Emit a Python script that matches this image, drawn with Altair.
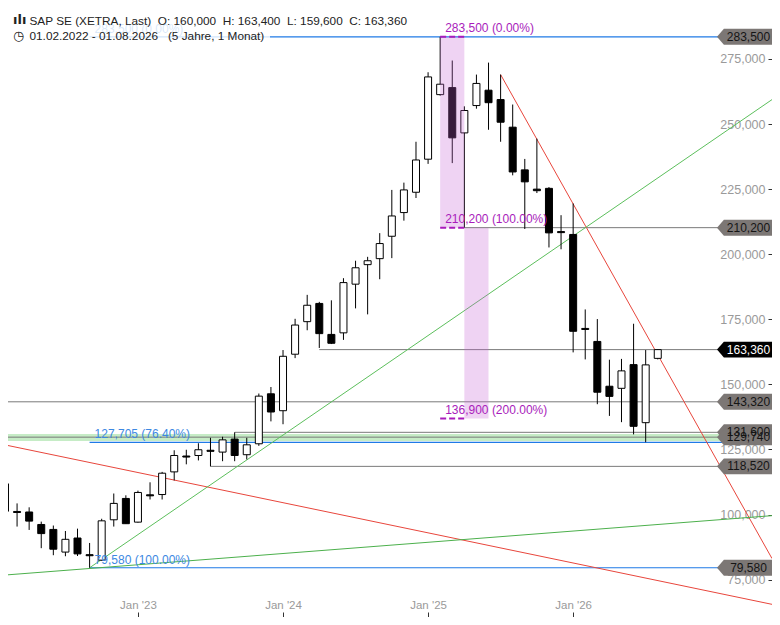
import altair as alt
import pandas as pd

# ---------------- data ----------------
months = pd.date_range("2022-02-01", "2026-08-01", freq="MS").strftime("%Y-%m").tolist()
opens = [111800, 101200, 101000, 96200, 94300, 85600, 91000, 84600, 82500, 98000,
         106200, 97100, 107600, 107700, 116400, 122500, 122700, 124700, 124000, 129000,
         123000, 127200, 146400, 139900, 161600, 174100, 181100, 169200, 169800, 188500,
         196000, 198300, 206900, 216000, 223800, 236500, 261300, 264000, 246600, 257100,
         263000, 259400, 248800, 232400, 225000, 225300, 208700, 207600, 171500, 166500,
         149300, 148500, 157600, 135300, 160000]
highs = [115000, 104300, 102800, 97300, 95800, 93700, 94600, 89100, 98400, 108100,
         107400, 109200, 112400, 116400, 124700, 124900, 127400, 129500, 129900, 131600,
         129500, 146500, 149000, 163200, 175200, 184400, 181700, 182300, 190800, 197500,
         199000, 208100, 224700, 227500, 243200, 269900, 283500, 274400, 256800, 269000,
         273600, 269000, 257500, 236600, 244400, 225800, 215000, 219500, 178800, 175100,
         159500, 159800, 173300, 163200, 163400]
lows = [98500, 95400, 94100, 87100, 84400, 84000, 84100, 79580, 82300, 95400,
        96500, 96900, 105800, 105800, 113100, 119300, 120800, 118520, 120500, 120500,
        121200, 126400, 135800, 134700, 160100, 170800, 164000, 165500, 167100, 179200,
        176900, 190400, 198500, 212900, 221600, 234700, 260900, 235000, 210200, 255900,
        247800, 243200, 230300, 209700, 223500, 202600, 201900, 162300, 159600, 142400,
        137900, 135500, 130800, 127800, 159600]
closes = [101300, 100800, 97500, 92700, 86700, 90500, 84900, 84200, 97600, 104300,
          96500, 108500, 107200, 115900, 122700, 122100, 124900, 124300, 128700, 122700,
          126800, 145500, 139400, 160800, 172800, 180400, 169500, 165800, 189100, 194800,
          197500, 204100, 214700, 224700, 236200, 268100, 265300, 244700, 255200, 265600,
          258200, 250700, 231600, 227800, 224400, 208200, 208300, 170400, 171100, 147000,
          145400, 155200, 133900, 157500, 163360]

tick_months = ["2023-01", "2024-01", "2025-01", "2026-01"]
tick_labels = ["Jan '23", "Jan '24", "Jan '25", "Jan '26"]
y_ticks = [75000, 100000, 125000, 150000, 175000, 200000, 225000, 250000, 275000]

# blue Fibonacci retracement
fib_blue_vals = [283500, 127705, 79580]
fib_blue_text = ["283,500 (0.00%)", "127,705 (76.40%)", "79,580 (100.00%)"]
fib_blue_start = "2022-09"

# purple Fibonacci extension
fib_pur_vals = [283500, 210200, 136900]
fib_pur_text = ["283,500 (0.00%)", "210,200 (100.00%)", "136,900 (200.00%)"]
fib_pur_start = "2025-02"
fib_pur_mid = "2025-04"
fib_pur_end = "2025-06"

# grey horizontal levels and where they begin (None = left edge)
level_vals = [210200, 163360, 143320, 131600, 129740, 118520]
level_start = ["2025-04", "2024-04", None, "2023-09", None, "2023-07"]

# green zone
zone = [128300, 131000]

# price tags on the right
tag_vals = [283500, 210200, 163360, 143320, 131600, 129740, 118520, 79580]
tag_text = ["283,500", "210,200", "163,360", "143,320", "131,600", "129,740", "118,520", "79,580"]
tag_fill = ["#7c7775", "#7c7775", "#000000", "#7c7775", "#7c7775", "#7c7775", "#7c7775", "#7c7775"]
tag_tc = ["#151515", "#151515", "#ffffff", "#151515", "#151515", "#151515", "#151515", "#151515"]

# trend lines: (start month or None=left edge, start value, end value at right edge)
trend_start = ["2025-07", None, "2022-09", None]
trend_v1 = [269000, 126530, 79580, 76870]
trend_v2 = [83120, 65530, 259390, 99590]
trend_col = ["#e8463c", "#e8463c", "#5cbf5c", "#4cb04c"]

NB = "\u00a0"
header1 = f"SAP SE (XETRA, Last){NB*2}O: 160,000{NB*2}H: 163,400{NB*2}L: 159,600{NB*2}C: 163,360"
header2 = f"01.02.2022 - 01.08.2026{NB*3}(5 Jahre, 1 Monat)"

# ---------------- layout ----------------
W, H = 764, 609
XMIN, XMAX = 0.25, 63.45
YMIN, YMAX = 60666, 294572
FONT = "Liberation Sans, Arial, sans-serif"
NARROW = "Liberation Sans Narrow, Liberation Sans, Arial, sans-serif"

idx = {mo: i for i, mo in enumerate(months)}
def mi(mo):
    return XMIN if mo is None else idx[mo]

xs = alt.Scale(domain=[XMIN, XMAX], nice=False, zero=False, padding=0)
ys = alt.Scale(domain=[YMIN, YMAX], nice=False, zero=False, padding=0)

tick_idx = [idx[t] for t in tick_months]
lab_js = "{" + ",".join(f"'{i}':\"{l}\"" for i, l in zip(tick_idx, tick_labels)) + "}"

x_axis = alt.Axis(orient="top", offset=-H, values=tick_idx,
                  labelExpr=f"{lab_js}[''+datum.value]", domain=False, grid=False,
                  tickSize=5, tickColor="#333333", labelColor="#9a9a9a",
                  labelFont=NARROW, labelFontSize=11.5, labelPadding=2)
y_axis = alt.Axis(orient="left", offset=-W, values=y_ticks, format=",.0f",
                  domain=False, grid=False, tickSize=4, tickColor="#333333",
                  labelColor="#9a9a9a", labelFont=NARROW, labelFontSize=12.5,
                  labelPadding=3)

# green zone
zone_df = pd.DataFrame({"x1": [XMIN], "x2": [XMAX], "lo": [zone[0]], "hi": [zone[1]]})
zone_l = alt.Chart(zone_df).mark_rect(color="#c6ecc6", clip=True).encode(
    x=alt.X("x1:Q", scale=xs, axis=x_axis, title=None), x2="x2:Q",
    y=alt.Y("lo:Q", scale=ys, axis=y_axis, title=None), y2="hi:Q")

# grey levels
lev_df = pd.DataFrame({"v": level_vals, "x1": [mi(s) for s in level_start], "x2": XMAX})
lev_l = alt.Chart(lev_df).mark_rule(color="#7a7a7a", strokeWidth=1, clip=True).encode(
    x=alt.X("x1:Q", scale=xs, title=None), x2="x2:Q", y=alt.Y("v:Q", scale=ys, title=None))

# blue fib lines
fb_df = pd.DataFrame({"v": fib_blue_vals, "t": fib_blue_text,
                      "x1": mi(fib_blue_start), "x2": XMAX})
fb_l = alt.Chart(fb_df).mark_rule(color="#1f7ae6", strokeWidth=1.2, clip=True).encode(
    x=alt.X("x1:Q", scale=xs, title=None), x2="x2:Q", y=alt.Y("v:Q", scale=ys, title=None))
fb_t = alt.Chart(fb_df).mark_text(align="left", baseline="alphabetic", dx=5, dy=-4,
                                   font=FONT, fontSize=12, color="#3d88e2").encode(
    x=alt.X("x1:Q", scale=xs, title=None), y=alt.Y("v:Q", scale=ys, title=None), text="t:N")

# trend lines
tr_df = pd.DataFrame({"x1": [mi(s) for s in trend_start], "x2": XMAX,
                      "v1": trend_v1, "v2": trend_v2, "c": trend_col})
tr_l = alt.Chart(tr_df).mark_rule(strokeWidth=1, clip=True).encode(
    x=alt.X("x1:Q", scale=xs, title=None), x2="x2:Q",
    y=alt.Y("v1:Q", scale=ys, title=None), y2="v2:Q",
    color=alt.Color("c:N", scale=None))

# candles
cdf = pd.DataFrame({"m": range(len(months)), "month": months, "open": opens,
                    "high": highs, "low": lows, "close": closes})
cdf["dir"] = ["up" if c >= o else "down" for o, c in zip(opens, closes)]
wick = alt.Chart(cdf).mark_rule(color="black", strokeWidth=1, clip=True).encode(
    x=alt.X("m:Q", scale=xs, title=None), y=alt.Y("low:Q", scale=ys, title=None), y2="high:Q")
body = alt.Chart(cdf).mark_bar(size=7, stroke="black", strokeWidth=1, clip=True).encode(
    x=alt.X("m:Q", scale=xs, title=None), y=alt.Y("open:Q", scale=ys, title=None), y2="close:Q",
    fill=alt.Fill("dir:N", scale=alt.Scale(domain=["up", "down"], range=["white", "black"]),
                  legend=None))

# purple extension boxes
pk_df = pd.DataFrame({"x1": [mi(fib_pur_start), mi(fib_pur_mid)],
                      "x2": [mi(fib_pur_mid), mi(fib_pur_end)],
                      "v1": [fib_pur_vals[0], fib_pur_vals[1]],
                      "v2": [fib_pur_vals[1], fib_pur_vals[2]]})
pk_l = alt.Chart(pk_df).mark_rect(color="#c462d4", opacity=0.28, clip=True).encode(
    x=alt.X("x1:Q", scale=xs, title=None), x2="x2:Q",
    y=alt.Y("v1:Q", scale=ys, title=None), y2="v2:Q")
fp_df = pd.DataFrame({"v": fib_pur_vals, "t": fib_pur_text,
                      "x1": mi(fib_pur_start), "x2": mi(fib_pur_mid)})
fp_l = alt.Chart(fp_df).mark_rule(color="#a91cbb", strokeWidth=2, strokeDash=[6, 3],
                                  clip=True).encode(
    x=alt.X("x1:Q", scale=xs, title=None), x2="x2:Q", y=alt.Y("v:Q", scale=ys, title=None))
fp_t = alt.Chart(fp_df).mark_text(align="left", baseline="alphabetic", dx=5, dy=-5,
                                   font=FONT, fontSize=12, color="#a91cbb").encode(
    x=alt.X("x1:Q", scale=xs, title=None), y=alt.Y("v:Q", scale=ys, title=None), text="t:N")

# header
hb = alt.Chart(pd.DataFrame({"a": [0]})).mark_rect(color="white", opacity=0.8).encode(
    x=alt.value(0), x2=alt.value(262), y=alt.value(0), y2=alt.value(36))
hdr_df = pd.DataFrame({"t": [header1, header2], "yy": [12.5, 28]})
hdr = alt.Chart(hdr_df).mark_text(align="left", baseline="middle", font=FONT,
                                  fontSize=11.8, color="#222222").encode(
    x=alt.value(21.5), y=alt.Y("yy:Q", scale=None), text="t:N")
ic_df = pd.DataFrame({"t": ["ılı", "◷"], "yy": [12, 28]})
icons = alt.Chart(ic_df).mark_text(align="left", baseline="middle",
                                   font="DejaVu Sans", fontSize=13, fontWeight="bold",
                                   color="#222222").encode(
    x=alt.value(5), y=alt.Y("yy:Q", scale=None), text="t:N")

# tags
tag_df = pd.DataFrame({"v": tag_vals, "t": tag_text, "f": tag_fill, "tc": tag_tc})
TAG = "M-1,0L-0.75,-0.29L1,-0.29L1,0.29L-0.75,0.29Z"
tag_s = alt.Chart(tag_df).mark_point(shape=TAG, size=55 * 55, filled=True, opacity=1,
                                     strokeWidth=0).encode(
    x=alt.value(736.5), y=alt.Y("v:Q", scale=ys, title=None),
    color=alt.Color("f:N", scale=None))
tag_t = alt.Chart(tag_df).mark_text(align="center", baseline="middle", font=FONT,
                                    fontSize=12).encode(
    x=alt.value(740.5), y=alt.Y("v:Q", scale=ys, title=None), text="t:N",
    color=alt.Color("tc:N", scale=None))

chart = alt.layer(zone_l, lev_l, fb_l, tr_l, wick, body, pk_l, fp_l, fb_t, fp_t,
                  hb, icons, hdr, tag_s, tag_t).properties(
    width=W, height=H, padding=0, autosize=alt.AutoSizeParams(type="none"),
    background="white"
).configure_view(stroke=None)

chart.save("out.html", embed_options={"renderer": "svg", "actions": False})
